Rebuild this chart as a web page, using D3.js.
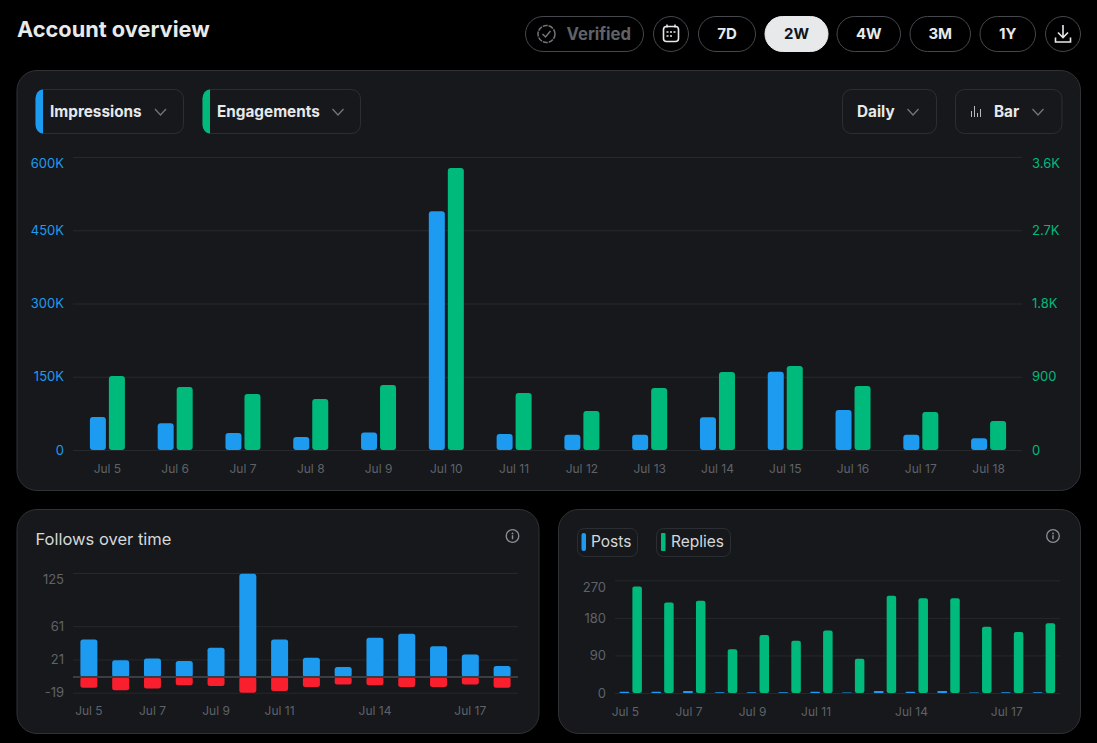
<!DOCTYPE html>
<html>
<head>
<meta charset="utf-8">
<style>
  html, body { margin: 0; background: #000; overflow: hidden; }
  text { font-family: Inter, "Noto Sans", sans-serif; }
  .axis .domain { display: none; }
  .axis line { stroke: #26282c; }
</style>
<script src="https://cdn.jsdelivr.net/npm/d3@7"></script>
</head>
<body>
<script>
var days = ["Jul 5", "Jul 6", "Jul 7", "Jul 8", "Jul 9", "Jul 10", "Jul 11", "Jul 12", "Jul 13", "Jul 14", "Jul 15", "Jul 16", "Jul 17", "Jul 18"];

// values
var impressions = [67500, 55000, 35000, 26500, 36000, 489000, 33000, 31000, 31000, 67000, 160000, 82000, 31000, 24000];
var engagements = [909, 774, 688, 627, 799, 3465, 700, 479, 762, 958, 1032, 786, 467, 356];
var followsGained = [45, 20, 22, 19, 35, 124, 45, 23, 12, 47, 52, 37, 27, 13];
var followsLost = [-13, -16, -14, -10, -11, -19, -17, -12, -9, -10, -12, -12, -9, -13];
var posts = [3, 3, 5, 2, 2, 2, 3, 1, 5, 3, 5, 1, 2, 2];
var replies = [255, 217, 221, 105, 139, 125, 150, 82, 233, 227, 227, 159, 146, 167];

var impressionTicks = [0, 150000, 300000, 450000, 600000];
var engagementTicks = [0, 900, 1800, 2700, 3600];
var followTicks = [-19, 0, 21, 61, 125];
var activityTicks = [0, 90, 180, 270];
var sparseDays = ["Jul 5", "Jul 7", "Jul 9", "Jul 11", "Jul 14", "Jul 17"];
var ranges = ["7D", "2W", "4W", "3M", "1Y"];

var blue = "#1d9bf0",
  green = "#00ba7c",
  red = "#f91f2e",
  panel = "#16181c",
  border = "#2f3336",
  muted = "#5f6368",
  white = "#e7e9ea";

var svg = d3
  .select("body")
  .append("svg")
  .attr("width", 1097)
  .attr("height", 743)
  .style("display", "block");

function box(x, y, w, h, r, fill, stroke) {
  return svg
    .append("rect")
    .attr("x", x)
    .attr("y", y)
    .attr("width", w)
    .attr("height", h)
    .attr("rx", r)
    .attr("fill", fill)
    .attr("stroke", stroke);
}

function label(x, y, str, size, weight, color, anchor) {
  return svg
    .append("text")
    .attr("x", x)
    .attr("y", y)
    .attr("dy", "0.35em")
    .attr("font-size", size)
    .attr("font-weight", weight)
    .attr("fill", color)
    .attr("text-anchor", anchor || "start")
    .text(str);
}

function chevron(x, y) {
  svg
    .append("path")
    .attr("d", "M" + (x - 5.5) + "," + (y - 3) + "L" + x + "," + (y + 3) + "L" + (x + 5.5) + "," + (y - 3))
    .attr("fill", "none")
    .attr("stroke", "#71767b")
    .attr("stroke-width", 1.3);
}

function infoIcon(x, y) {
  svg.append("circle").attr("cx", x).attr("cy", y).attr("r", 6.3).attr("fill", "none").attr("stroke", "#8b8f94").attr("stroke-width", 1.3);
  svg.append("circle").attr("cx", x).attr("cy", y - 2.6).attr("r", 0.9).attr("fill", "#8b8f94");
  svg.append("line").attr("x1", x).attr("x2", x).attr("y1", y - 0.8).attr("y2", y + 3.2).attr("stroke", "#8b8f94").attr("stroke-width", 1.4);
}

// header
label(17, 29, "Account overview", 21.75, 700, white);

box(525.5, 16.5, 118, 35, 17.5, "none", "#45494d");
svg.append("circle").attr("cx", 546.5).attr("cy", 34).attr("r", 8.5).attr("fill", "none").attr("stroke", "#71767b").attr("stroke-width", 1.5).attr("stroke-dasharray", "5 1");
svg.append("path").attr("d", "M542.5,34l3,3l5,-6").attr("fill", "none").attr("stroke", "#71767b").attr("stroke-width", 1.5);
label(566.5, 34, "Verified", 16.7, 700, "#5f6368");

box(653.5, 16.5, 35, 35, 17.5, "none", "#45494d");
box(663.5, 26.5, 15, 15, 3, "none", white).attr("stroke-width", 1.6);
svg.append("path").attr("d", "M667,24.5v3M675,24.5v3").attr("stroke", white).attr("stroke-width", 1.5);
svg.append("path").attr("d", "M666.5,32h2M670,32h2M673.5,32h2M666.5,36h2M670,36h2").attr("stroke", white).attr("stroke-width", 1.6);

var rangeBoxes = [[698.5, 57], [765, 63], [837, 63.5], [910, 60.5], [980, 55.5]];
ranges.forEach(function(r, i) {
  var on = r === "2W";
  box(rangeBoxes[i][0], 16.5, rangeBoxes[i][1], 35, 17.5, on ? "#e7e9ea" : "none", on ? "#e7e9ea" : "#45494d");
  label(rangeBoxes[i][0] + rangeBoxes[i][1] / 2, 34, r, 15, 700, on ? "#0f1419" : white, "middle");
});

box(1045.5, 16.5, 35, 35, 17.5, "none", "#45494d");
svg
  .append("path")
  .attr("d", "M1063,25v12M1058,32.5l5,5l5,-5M1055.5,37.5v4.5h15v-4.5")
  .attr("fill", "none")
  .attr("stroke", white)
  .attr("stroke-width", 1.6);

// panels
box(17, 70.5, 1063.5, 420, 20, panel, border);
box(17, 509.5, 522, 224, 20, panel, border);
box(558.5, 509.5, 522, 224, 20, panel, border);

function dropdown(x, w, strip, str, textX, chevX) {
  box(x + 0.5, 89.5, w, 44, 9, "none", "#2b2e32");
  if (strip) {
    svg
      .append("path")
      .attr("d", "M" + (x + 7.5) + ",89.5 h-0.5 a7,9 0 0 0 -7,9 v26 a7,9 0 0 0 7,9 h0.5 z")
      .attr("fill", strip);
  }
  label(textX, 111.5, str, 15.3, 700, white);
  chevron(chevX, 112);
}
dropdown(35.5, 147.5, blue, "Impressions", 50, 160.5);
dropdown(202.5, 157.5, green, "Engagements", 217, 338);
dropdown(842, 94, null, "Daily", 857, 913);
dropdown(955, 106.5, null, "Bar", 994, 1038);
svg.append("path").attr("d", "M971.5,117v-6M974.5,117v-11M977.5,117v-4M980.5,117v-8").attr("stroke", "#b8bbbe").attr("stroke-width", 1);

// moves the top tick label under its grid line, like the original
function nudgeTop(g, top, dy) {
  g.selectAll(".tick")
    .filter(function(d) {
      return d === top;
    })
    .select("text")
    .attr("dy", dy);
}

// main chart
var x0 = d3.scaleBand().domain(days).range([73.5, 1022.5]);
var x1 = d3.scaleBand().domain([0, 1]).range([-17.5, 17.5]).paddingInner(3 / 19);
var yLeft = d3.scaleLinear().domain([0, 600000]).range([450, 157]);
var yRight = d3.scaleLinear().domain([0, 3600]).range([450, 157]);
var mainCenter = function(d) {
  return x0(d) + x0.bandwidth() / 2;
};

var leftAxis = svg
  .append("g")
  .attr("class", "axis")
  .attr("transform", "translate(73,0)")
  .call(
    d3
      .axisLeft(yLeft)
      .tickValues(impressionTicks)
      .tickSize(-949)
      .tickPadding(9)
      .tickFormat(function(d) {
        return d === 0 ? "0" : d / 1000 + "K";
      })
  );
leftAxis.selectAll("text").attr("fill", blue).attr("font-size", 13).attr("font-family", "Inter");
nudgeTop(leftAxis, 600000, "0.8em");

var rightAxis = svg
  .append("g")
  .attr("class", "axis")
  .attr("transform", "translate(1022,0)")
  .call(
    d3
      .axisRight(yRight)
      .tickValues(engagementTicks)
      .tickSize(0)
      .tickPadding(10)
      .tickFormat(function(d) {
        return d < 1000 ? d : d / 1000 + "K";
      })
  );
rightAxis.selectAll("text").attr("fill", green).attr("font-size", 13).attr("font-family", "Inter");
nudgeTop(rightAxis, 3600, "0.8em");

function drawBars(values, xPos, w, y, fill, r) {
  svg
    .append("g")
    .selectAll("rect")
    .data(values)
    .enter()
    .append("rect")
    .attr("x", function(d, i) {
      return xPos(i);
    })
    .attr("width", w)
    .attr("y", function(d) {
      return Math.min(y(d), y(0));
    })
    .attr("height", function(d) {
      return Math.abs(y(d) - y(0));
    })
    .attr("rx", r)
    .attr("fill", fill);
}

drawBars(impressions, function(i) { return mainCenter(days[i]) + x1(0); }, x1.bandwidth(), yLeft, blue, 3);
drawBars(engagements, function(i) { return mainCenter(days[i]) + x1(1); }, x1.bandwidth(), yRight, green, 3);

var mainX = svg
  .append("g")
  .attr("class", "axis")
  .attr("transform", "translate(0,463)")
  .call(d3.axisBottom(x0).tickSize(0).tickPadding(1));
mainX.selectAll("text").attr("fill", muted).attr("font-size", 12).attr("font-family", "Inter");

// follows chart
label(35.5, 539, "Follows over time", 16.5, 400, "#d5d8da");
infoIcon(512.5, 536);

var xF = d3.scaleBand().domain(days).range([73, 518]);
var yF = d3.scaleLinear().domain([-19, 125]).range([692.7, 573]);

var followAxis = svg
  .append("g")
  .attr("class", "axis")
  .attr("transform", "translate(73,0)")
  .call(
    d3
      .axisLeft(yF)
      .tickValues(followTicks)
      .tickSize(-445)
      .tickPadding(9)
      .tickFormat(function(d) {
        return d === 0 ? "" : d;
      })
  );
followAxis.selectAll("text").attr("fill", muted).attr("font-size", 13).attr("font-family", "Inter");
nudgeTop(followAxis, 125, "0.8em");

var fw = 17;
var followX = function(i) {
  return xF(days[i]) + (xF.bandwidth() - fw) / 2;
};
drawBars(followsGained, followX, fw, yF, blue, 2.5);
drawBars(followsLost, followX, fw, yF, red, 2.5);

svg
  .append("line")
  .attr("x1", 73)
  .attr("x2", 518)
  .attr("y1", yF(0))
  .attr("y2", yF(0))
  .attr("stroke", "#3a3d41")
  .attr("stroke-width", 2);

var followX2 = svg
  .append("g")
  .attr("class", "axis")
  .attr("transform", "translate(0,705.5)")
  .call(d3.axisBottom(xF).tickValues(sparseDays).tickSize(0).tickPadding(1));
followX2.selectAll("text").attr("fill", muted).attr("font-size", 12).attr("font-family", "Inter");

// posts and replies chart
box(577.5, 528.5, 60, 28, 7, "none", "#2b2e32");
box(581.5, 533, 4.5, 18, 2, blue, "none");
label(591, 541.5, "Posts", 15.5, 400, "#d5d8da");
box(656.5, 528.5, 74, 28, 7, "none", "#2b2e32");
box(661, 533, 4.5, 18, 1, green, "none");
label(671, 541.5, "Replies", 15.5, 400, "#d5d8da");
infoIcon(1053, 536);

var xP = d3.scaleBand().domain(days).range([615, 1060]);
var yP = d3.scaleLinear().domain([0, 270]).range([693, 580.3]);

var activityAxis = svg
  .append("g")
  .attr("class", "axis")
  .attr("transform", "translate(615,0)")
  .call(d3.axisLeft(yP).tickValues(activityTicks).tickSize(-445).tickPadding(9));
activityAxis.selectAll("text").attr("fill", muted).attr("font-size", 13).attr("font-family", "Inter");
nudgeTop(activityAxis, 270, "0.85em");

var center = function(i) {
  return xP(days[i]) + xP.bandwidth() / 2;
};
drawBars(posts, function(i) { return center(i) - 11.5; }, 10, yP, blue, 1);
drawBars(replies, function(i) { return center(i) + 1.5; }, 9.5, yP, green, 2);

// date labels sit over the posts bar here, not the middle of the day
var activityX = svg
  .append("g")
  .attr("class", "axis")
  .attr("transform", "translate(-5.5,706)")
  .call(d3.axisBottom(xP).tickValues(sparseDays).tickSize(0).tickPadding(1));
activityX.selectAll("text").attr("fill", muted).attr("font-size", 12).attr("font-family", "Inter");
</script>
</body>
</html>
